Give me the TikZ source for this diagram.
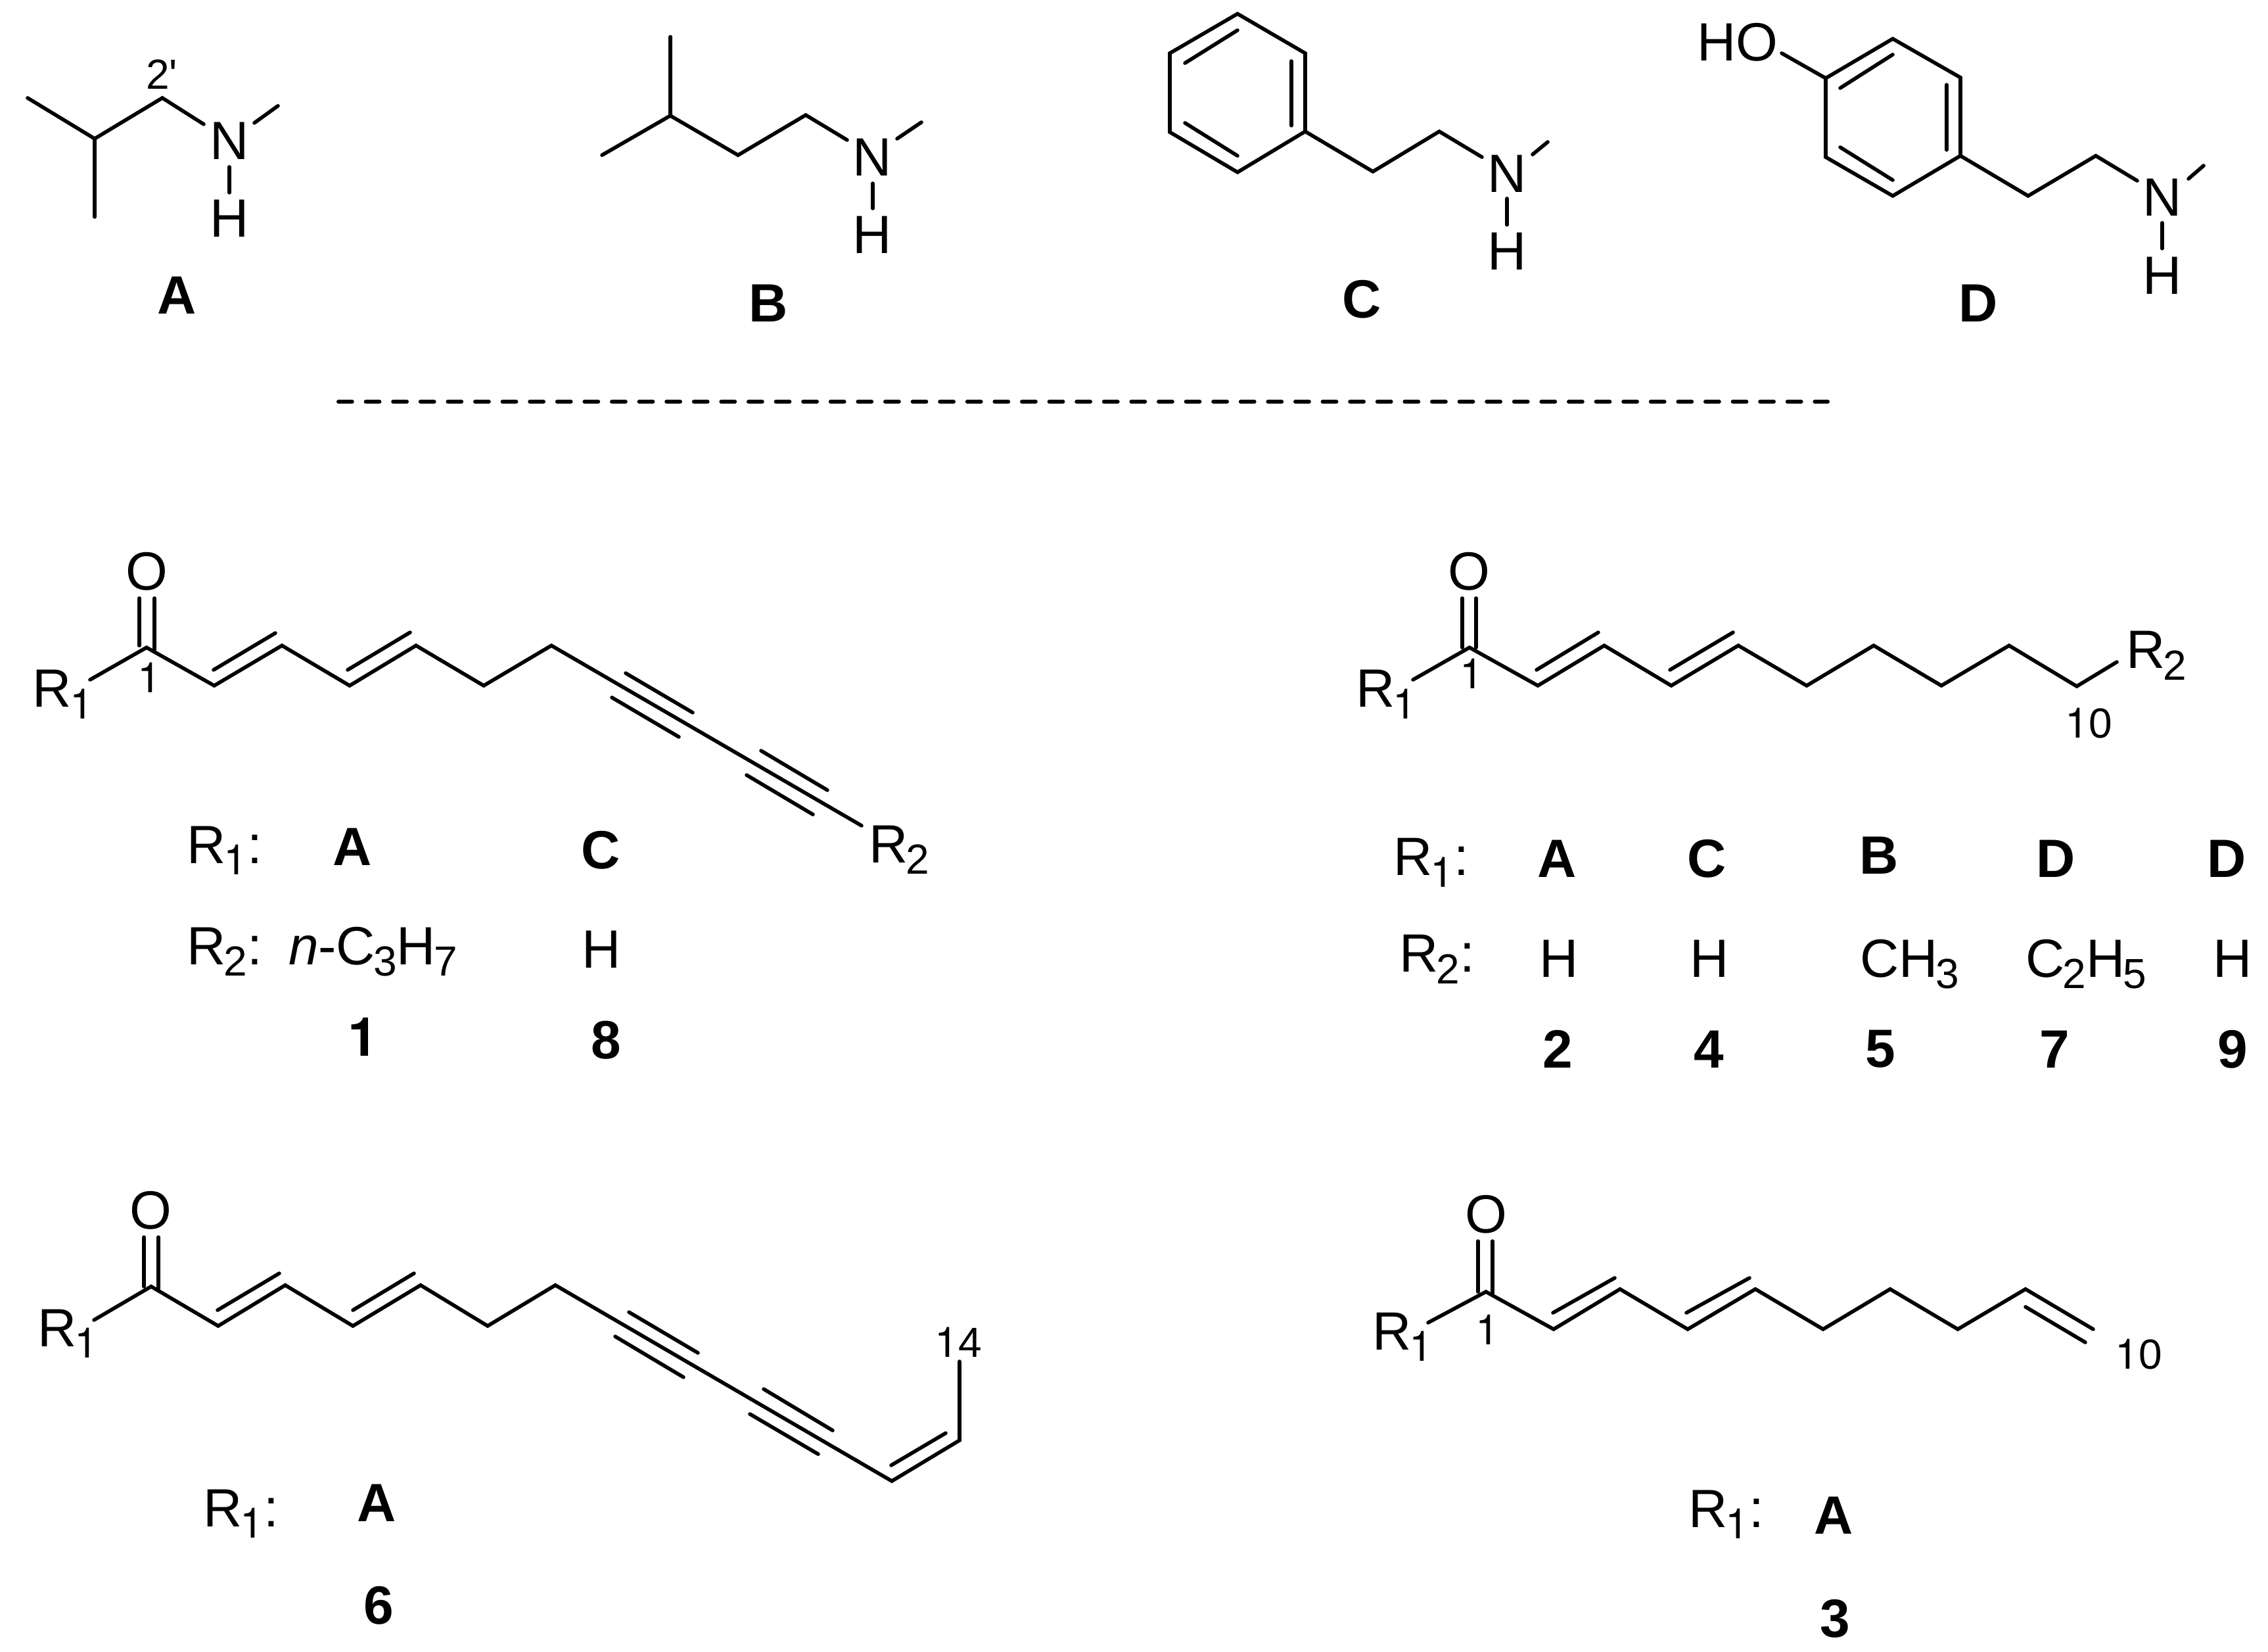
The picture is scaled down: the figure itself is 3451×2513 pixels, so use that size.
\documentclass[tikz,border=0pt]{standalone}
\usepackage{fontspec}
\setmainfont{Liberation Sans}
\newfontfamily\hv{TeX Gyre Heros}
\newfontfamily\rawf{Liberation Sans}
\newcommand{\one}{{\hv 1}}
\newcommand{\sbs}[1]{\kern-0.7pt\raisebox{-4.3pt}{\fontsize{16}{16}\selectfont #1}}
\tikzset{
  x=0.25pt,y=-0.25pt,
  bond/.style={line width=1.4pt,line cap=round,line join=miter,black},
  sepline/.style={line width=1.5pt,line cap=round,black,dash pattern=on 5.2pt off 5.2pt},
  atom/.style={inner sep=0pt,outer sep=0pt,font=\fontsize{20.5}{20.5}\selectfont},
  lefttext/.style={atom,anchor=base west,xshift=-1.25pt},
  num/.style={inner sep=0pt,outer sep=0pt,font=\fontsize{16}{16}\selectfont},
  tag/.style={inner sep=0pt,outer sep=0pt,font=\fontsize{20.5}{20.5}\selectfont\bfseries},
}
\begin{document}
\begin{tikzpicture}
\useasboundingbox (0,0) rectangle (3451,2513);
\fill[white] (0,0) rectangle (3451,2513);

% --- A
\draw[bond] (42,149) -- (144,211) -- (247,149) -- (310,189);
\draw[bond] (144,211) -- (144,330);
\draw[bond] (387,187) -- (423,161);
\draw[bond] (349,254) -- (349,293);
\node[atom] (aN) at (349,214) {N};
\node[atom] (aH) at (349,332) {H};
\node[num] (a2p) at (246,113) {2{\rawf '}};
\node[tag] (aT) at (269,449) {A};

% --- B
\draw[bond] (1020,56) -- (1020,176);
\draw[bond] (916,236) -- (1020,176) -- (1123,236) -- (1226,175) -- (1289,213);
\draw[bond] (1365,211) -- (1402,186);
\draw[bond] (1328,279) -- (1328,317);
\node[atom] (bN) at (1327,239) {N};
\node[atom] (bH) at (1327,357) {H};
\node[tag] (bT) at (1169,461) {B};

% --- C
\draw[bond] (1883,21) -- (1986,81) -- (1986,200) -- (1883,262) -- (1780,201) -- (1780,81) -- cycle;
\draw[bond] (1883,46) -- (1803,96);
\draw[bond] (1965,93) -- (1965,191);
\draw[bond] (1803,187) -- (1883,237);
\draw[bond] (1986,200) -- (2089,261) -- (2190,200) -- (2255,239);
\draw[bond] (2332,235) -- (2355,216);
\draw[bond] (2293,302) -- (2293,342);
\node[atom] (cN) at (2293,264) {N};
\node[atom] (cH) at (2293,382) {H};
\node[tag] (cT) at (2072,455) {C};

% --- D
\draw[bond] (2880,59) -- (2983,118) -- (2983,237) -- (2880,298) -- (2778,239) -- (2778,119) -- cycle;
\draw[bond] (2880,83) -- (2800,134);
\draw[bond] (2962,129) -- (2962,228);
\draw[bond] (2800,224) -- (2880,274);
\draw[bond] (2711,81) -- (2778,119);
\draw[bond] (2983,237) -- (3086,298) -- (3189,237) -- (3252,275);
\draw[bond] (3330,272) -- (3353,252);
\draw[bond] (3290,339) -- (3290,378);
\node[atom] (dHO) at (2644,64) {HO};
\node[atom] (dN) at (3290,300) {N};
\node[atom] (dH) at (3290,419) {H};
\node[tag] (dT) at (3010,461) {D};

% --- separator
\coordinate (sepL) at (515,611);
\coordinate (sepR) at (2781,611);
\draw[sepline] (sepL) -- (sepR);

% --- compound 1 / 8
\draw[bond] (137,1034) -- (223,985) -- (326,1043) -- (429,982) -- (532,1043) -- (633,982) -- (736,1043) -- (839,982) -- (1311,1256);
\draw[bond] (212,910) -- (212,982);
\draw[bond] (235,910) -- (235,988);
\draw[bond] (325,1019) -- (419,963);
\draw[bond] (529,1019) -- (624,962);
\draw[bond] (952,1024) -- (1054,1084);
\draw[bond] (931,1061) -- (1033,1121);
\draw[bond] (1158,1142) -- (1259,1202);
\draw[bond] (1136,1179) -- (1237,1239);
\node[atom] (oO) at (223,869) {O};
\node[lefttext] (oR1) at (55,1076) {R\sbs{\one}};
\node[num] (oC1) at (227,1031) {\one};
\node[lefttext] (oR2) at (1327,1312) {R\sbs{2}};
\node[lefttext] (oLa) at (289,1313) {R\sbs{\one}:};
\node[lefttext] (oLb) at (289,1467) {R\sbs{2}:};
\node[tag] (oA) at (536,1288) {A};
\node[tag] (oC) at (914,1293) {C};
\node[lefttext] (oPr) at (444,1467) {\textit{n}-C\sbs{3}H\sbs{7}};
\node[atom,anchor=base] (oH) at (915,1472) {H};
\node[tag] (o1) at (552,1577) {{\hv\bfseries 1}};
\node[tag] (o8) at (922,1582) {8};

% --- compound 2 / 4 / 5 / 7 / 9
\draw[bond] (2150,1034) -- (2236,985) -- (2340,1043) -- (2441,982) -- (2543,1043) -- (2645,982) -- (2749,1043) -- (2851,982) -- (2954,1043) -- (3057,982) -- (3160,1044) -- (3221,1007);
\draw[bond] (2225,910) -- (2225,985);
\draw[bond] (2246,910) -- (2246,985);
\draw[bond] (2338,1019) -- (2432,962);
\draw[bond] (2541,1019) -- (2637,962);
\node[atom] (tO) at (2235,869) {O};
\node[lefttext] (tR1) at (2068,1076) {R\sbs{\one}};
\node[num] (tC1) at (2239,1025) {\one};
\node[lefttext] (tR2) at (3240,1017) {R\sbs{2}};
\node[num] (tC10) at (3178,1100) {\one 0};
\node[lefttext] (tLa) at (2125,1332) {R\sbs{\one}:};
\node[lefttext] (tLb) at (2134,1479) {R\sbs{2}:};
\node[tag] (tA) at (2369,1306) {A};
\node[tag] (tC) at (2597,1306) {C};
\node[tag] (tB) at (2859,1301) {B};
\node[tag] (tDa) at (3128,1306) {D};
\node[tag] (tDb) at (3388,1306) {D};
\node[atom,anchor=base] (tHa) at (2372,1486) {H};
\node[atom,anchor=base] (tHb) at (2601,1486) {H};
\node[lefttext] (tMe) at (2835,1486) {CH\sbs{3}};
\node[lefttext] (tEt) at (3087,1486) {C\sbs{2}H\sbs{5}};
\node[atom,anchor=base] (tHc) at (3397,1486) {H};
\node[tag] (t2) at (2370,1596) {2};
\node[tag] (t4) at (2600,1596) {4};
\node[tag] (t5) at (2861,1596) {5};
\node[tag] (t7) at (3126,1596) {7};
\node[tag] (t9) at (3397,1596) {9};

% --- compound 6
\draw[bond] (143,2008) -- (230,1957) -- (332,2017) -- (434,1955) -- (537,2017) -- (640,1955) -- (742,2017) -- (845,1955) -- (1357,2253) -- (1460,2191) -- (1460,2071);
\draw[bond] (219,1882) -- (219,1957);
\draw[bond] (241,1882) -- (241,1960);
\draw[bond] (331,1993) -- (425,1937);
\draw[bond] (537,1993) -- (630,1937);
\draw[bond] (1356,2229) -- (1439,2180);
\draw[bond] (957,1996) -- (1062,2058);
\draw[bond] (936,2033) -- (1040,2095);
\draw[bond] (1162,2113) -- (1267,2176);
\draw[bond] (1141,2151) -- (1245,2212);
\node[atom] (sO) at (229,1841) {O};
\node[lefttext] (sR1) at (62,2048) {R\sbs{\one}};
\node[num] (s14) at (1458,2042) {\one 4};
\node[lefttext] (sLa) at (314,2322) {R\sbs{\one}:};
\node[tag] (sA) at (573,2286) {A};
\node[tag] (s6) at (576,2442) {6};

% --- compound 3
\draw[bond] (2173,2012) -- (2261,1965) -- (2364,2022) -- (2465,1961) -- (2568,2022) -- (2671,1961) -- (2774,2022) -- (2876,1961) -- (2979,2022) -- (3082,1961) -- (3185,2022);
\draw[bond] (2249,1888) -- (2249,1965);
\draw[bond] (2271,1888) -- (2271,1967);
\draw[bond] (2363,1997) -- (2457,1944);
\draw[bond] (2566,1997) -- (2662,1944);
\draw[bond] (3082,1988) -- (3173,2042);
\node[atom] (uO) at (2261,1847) {O};
\node[lefttext] (uR1) at (2093,2053) {R\sbs{\one}};
\node[num] (uC1) at (2263,2023) {\one};
\node[num] (uC10) at (3254,2060) {\one 0};
\node[lefttext] (uLa) at (2574,2323) {R\sbs{\one}:};
\node[tag] (uA) at (2790,2305) {A};
\node[tag] (u3) at (2792,2462) {3};
\end{tikzpicture}
\end{document}
